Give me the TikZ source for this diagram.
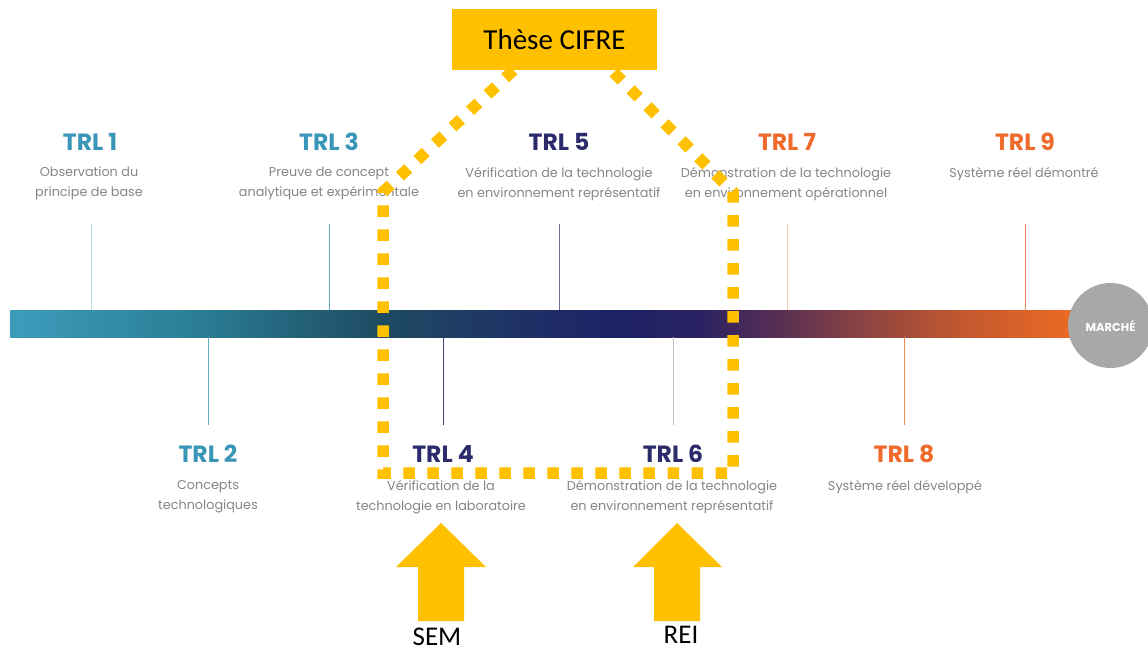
\documentclass[tikz,border=0pt]{standalone}
\usepackage{fontspec}
\setmainfont{Poppins}
\newfontfamily\calibri{Carlito}
\usetikzlibrary{positioning}

\definecolor{trlteal}{HTML}{3A96B6}
\definecolor{trlnavy}{HTML}{2B2B6B}
\definecolor{trlorange}{HTML}{EE6B2C}
\definecolor{descgrey}{HTML}{858585}
\definecolor{cifreyellow}{HTML}{FFC000}
\definecolor{marchegrey}{HTML}{A8A8A8}
\definecolor{barA}{HTML}{3D9CBB}
\definecolor{barB}{HTML}{2A7D94}
\definecolor{barC}{HTML}{1E4B62}
\definecolor{barD}{HTML}{1E2A66}
\definecolor{barE}{HTML}{1D2264}
\definecolor{barF}{HTML}{2A2262}
\definecolor{barG}{HTML}{4E2B57}
\definecolor{barH}{HTML}{8F4541}
\definecolor{barI}{HTML}{C2582F}
\definecolor{barJ}{HTML}{EE6B22}

\pgfdeclarehorizontalshading{trlbar}{100bp}{color(0bp)=(barA); color(25bp)=(barA);
  color(33.88bp)=(barB); color(42.29bp)=(barC); color(50.70bp)=(barD);
  color(53.50bp)=(barE); color(57.24bp)=(barF); color(60.05bp)=(barG);
  color(65.19bp)=(barH); color(69.39bp)=(barI); color(75bp)=(barJ); color(100bp)=(barJ)}

\begin{document}
\begin{tikzpicture}[x=1pt, y=-1pt,
  trltitle/.style={font=\fontsize{23.5}{28}\selectfont\bfseries, inner sep=0},
  trldesc/.style={font=\fontsize{12.8}{20}\selectfont, text=descgrey, align=center, inner sep=0, anchor=north},
  trltick/.style={line width=0.8pt},
  cifredots/.style={draw=cifreyellow, line width=11.5pt, dash pattern=on 11.5pt off 12.5pt},
  bigtext/.style={font=\calibri\fontsize{27}{30}\selectfont, inner sep=0}]
  \useasboundingbox (0,0) rectangle (1148,652);
  \clip (0,0) rectangle (1148,652);

  % timeline
  \node[shading=trlbar, minimum width=1070pt, minimum height=27pt, inner sep=0] (bar) at (545,323.5) {};
  \node[circle, fill=marchegrey, minimum size=85pt, inner sep=0, text=white,
        font=\fontsize{11.5}{12}\selectfont\bfseries] (marche) at (1110.5,325.5) {MARCHÉ};

  \draw[trltick, trlteal!35] (91,224) -- (91,224 |- bar.north);
  \draw[trltick, trlteal!80] (329,224) -- (329,224 |- bar.north);
  \draw[trltick, trlnavy!70] (559,224) -- (559,224 |- bar.north);
  \draw[trltick, trlorange!35] (787,224) -- (787,224 |- bar.north);
  \draw[trltick, trlorange!80] (1025,224) -- (1025,224 |- bar.north);
  \draw[trltick, trlteal!80] (208,425) -- (208,425 |- bar.south);
  \draw[trltick, trlnavy!90] (443,425) -- (443,425 |- bar.south);
  \draw[trltick, trlnavy!30] (673,425) -- (673,425 |- bar.south);
  \draw[trltick, trlorange!80] (904,425) -- (904,425 |- bar.south);

  % TRL above
  \node[trltitle, text=trlteal] (trl1) at (90,142) {TRL 1};
  \node[trldesc] (desc1) at (89,167) {Observation du\\principe de base};
  \node[trltitle, text=trlteal] (trl3) at (329,142) {TRL 3};
  \node[trldesc] (desc3) at (329,167) {Preuve de concept\\analytique et expérimentale};
  \node[trltitle, text=trlnavy] (trl5) at (559,142) {TRL 5};
  \node[trldesc] (desc5) at (559,167) {Vérification de la technologie\\en environnement représentatif};
  \node[trltitle, text=trlorange] (trl7) at (787,142) {TRL 7};
  \node[trldesc] (desc7) at (786,167) {Démonstration de la technologie\\en environnement opérationnel};
  \node[trltitle, text=trlorange] (trl9) at (1025,142) {TRL 9};
  \node[trldesc] (desc9) at (1024,167) {Système réel démontré};

  % TRL below
  \node[trltitle, text=trlteal] (trl2) at (208,454) {TRL 2};
  \node[trldesc] (desc2) at (208,480) {Concepts\\technologiques};
  \node[trltitle, text=trlnavy] (trl4) at (443,454) {TRL 4};
  \node[trldesc] (desc4) at (441,480) {Vérification de la\\technologie en laboratoire};
  \node[trltitle, text=trlnavy] (trl6) at (673,454) {TRL 6};
  \node[trldesc] (desc6) at (672,480) {Démonstration de la technologie\\en environnement représentatif};
  \node[trltitle, text=trlorange] (trl8) at (904,454) {TRL 8};
  \node[trldesc] (desc8) at (905,480) {Système réel développé};

  % these CIFRE
  \node[fill=cifreyellow, minimum width=205pt, minimum height=61pt, inner sep=0,
        font=\calibri\fontsize{29}{32}\selectfont] (cifre) at (554.5,39.5) {Thèse CIFRE};
  \coordinate (dl) at (383,192);
  \coordinate (bl) at (383,473);
  \coordinate (br) at (733,473);
  \coordinate (dr) at (733,192);
  \draw[cifredots] ([xshift=-41pt]cifre.south) -- (dl) -- (bl) -- (br) -- (dr) -- ([xshift=57pt]cifre.south);

  % financements
  \fill[cifreyellow] (418,621) -- (418,567) -- (396,567) -- (441,523) -- (486,567) -- (464,567) -- (464,621) -- cycle;
  \fill[cifreyellow] (654,621) -- (654,567) -- (633,567) -- (677,523) -- (722,567) -- (700,567) -- (700,621) -- cycle;
  \node[bigtext] (sem) at (437,637) {SEM};
  \node[bigtext] (rei) at (681,635) {REI};
\end{tikzpicture}
\end{document}
